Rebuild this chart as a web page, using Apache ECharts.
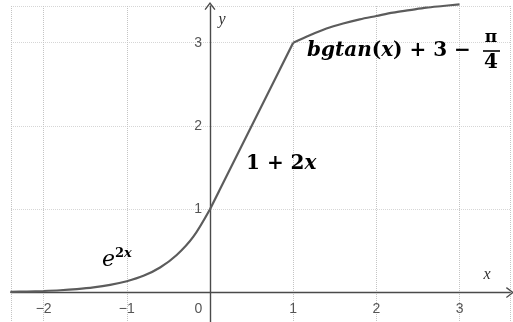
<!DOCTYPE html>
<html>
<head>
<meta charset="utf-8">
<script src="https://cdn.jsdelivr.net/npm/echarts@6/dist/echarts.min.js"></script>
<style>
  html, body { margin: 0; padding: 0; background: #fff; }
  #chart { width: 513px; height: 322px; }
</style>
</head>
<body>
<div id="chart"></div>
<script>
// values
const expX = [-2.4, -2.2, -2.0, -1.8, -1.6, -1.4, -1.2, -1.0, -0.8, -0.6, -0.4, -0.2, 0];
const expY = [0.008, 0.012, 0.018, 0.027, 0.041, 0.061, 0.091, 0.135, 0.2, 0.3, 0.45, 0.67, 1];
const linX = [0, 1];
const linY = [1, 3];
const atanX = [1, 1.2, 1.4, 1.6, 1.8, 2, 2.2, 2.4, 2.6, 2.8, 3];
const atanY = [3, 3.09, 3.17, 3.23, 3.28, 3.32, 3.36, 3.39, 3.42, 3.44, 3.46];
const xTicks = [-2, -1, 0, 1, 2, 3];
const yTicks = [1, 2, 3];

const pairs = (xs, ys) => xs.map((x, i) => [x, ys[i]]);

const chart = echarts.init(document.getElementById('chart'));

const axisColor = '#4a4a4a';
const curveColor = '#5c5c5c';
const chevron = 'path://M0,8 L6,0 L12,8 L10.8,8.8 L6,2.4 L1.2,8.8 Z';
const serif = '"DejaVu Serif", "Liberation Serif", serif';
const tickFont = 'Arial, "Liberation Sans", sans-serif';

function curve(name, data, smooth) {
  return {
    name: name,
    type: 'line',
    data: data,
    smooth: smooth,
    showSymbol: false,
    clip: false,
    lineStyle: { color: curveColor, width: 2.2 },
    z: 5
  };
}

chart.setOption({
  animation: false,
  grid: { left: 11, right: 3, top: 6, bottom: 0, outerBoundsMode: 'none' },
  xAxis: {
    type: 'value',
    min: -2.392,
    max: 3.606,
    axisLine: {
      onZero: true,
      symbol: ['none', chevron],
      symbolSize: [12, 8],
      lineStyle: { color: axisColor, width: 1.4 }
    },
    axisTick: { show: false },
    axisLabel: {
      customValues: xTicks,
      color: '#555',
      fontSize: 14,
      fontFamily: tickFont,
      // labels sit under the x axis line, not at the grid bottom
      margin: -20,
      formatter: v => v === 0 ? '{z|0}' : String(v).replace('-', '−'),
      rich: { z: { padding: [0, 23, 0, 0], color: '#555', fontSize: 14, fontFamily: tickFont } }
    },
    splitLine: {
      show: true,
      lineStyle: { color: '#c4c4c4', type: 'dotted', width: 1 }
    }
  },
  yAxis: {
    type: 'value',
    min: -0.354,
    max: 3.44,
    axisLine: {
      onZero: true,
      symbol: ['none', chevron],
      symbolSize: [12, 8],
      lineStyle: { color: axisColor, width: 1.4 }
    },
    axisTick: { show: false },
    axisLabel: {
      customValues: yTicks,
      color: '#555',
      fontSize: 14,
      fontFamily: tickFont,
      // labels sit left of the y axis line
      margin: -191
    },
    splitLine: {
      show: true,
      lineStyle: { color: '#d6d6d6', type: 'dotted', width: 1 }
    }
  },
  series: [
    curve('e^{2x}', pairs(expX, expY), 0.3),
    curve('1+2x', pairs(linX, linY), false),
    curve('arctan', pairs(atanX, atanY), 0.3)
  ],
  graphic: [
    {
      type: 'text', left: 307, top: 41, z: 20,
      style: {
        text: '{i|bgtan}{b|(}{i|x}{b|) + 3 −}',
        rich: {
          i: { font: 'italic bold 20px ' + serif, fill: '#000' },
          b: { font: 'bold 20px ' + serif, fill: '#000' }
        }
      }
    },
    {
      type: 'text', x: 491, y: 38, z: 20,
      style: { text: 'π', font: 'bold 17px ' + serif, fill: '#000', align: 'center', verticalAlign: 'middle' }
    },
    {
      type: 'line', z: 20,
      shape: { x1: 483, y1: 51, x2: 500, y2: 51 },
      style: { stroke: '#000', lineWidth: 1.6 }
    },
    {
      type: 'text', x: 491, y: 63, z: 20,
      style: { text: '4', font: 'bold 20px ' + serif, fill: '#000', align: 'center', verticalAlign: 'middle' }
    },
    {
      type: 'text', left: 246, top: 154, z: 20,
      style: {
        text: '{b|1 + 2}{i|x}',
        rich: {
          i: { font: 'italic bold 20px ' + serif, fill: '#000' },
          b: { font: 'bold 20px ' + serif, fill: '#000' }
        }
      }
    },
    {
      type: 'text', left: 102, top: 249, z: 20,
      style: { text: 'e', font: 'italic 22px ' + serif, fill: '#000' }
    },
    {
      type: 'text', left: 115, top: 247, z: 20,
      style: {
        text: '{b|2}{i|x}',
        rich: {
          i: { font: 'italic bold 13px ' + serif, fill: '#000' },
          b: { font: 'bold 13px ' + serif, fill: '#000' }
        }
      }
    },
    {
      type: 'text', x: 487, y: 275, z: 20,
      style: { text: 'x', font: 'italic 16px "Liberation Serif", serif', fill: '#333', align: 'center', verticalAlign: 'middle' }
    },
    {
      type: 'text', x: 222, y: 20, z: 20,
      style: { text: 'y', font: 'italic 16px "Liberation Serif", serif', fill: '#333', align: 'center', verticalAlign: 'middle' }
    }
  ]
});
</script>
</body>
</html>
